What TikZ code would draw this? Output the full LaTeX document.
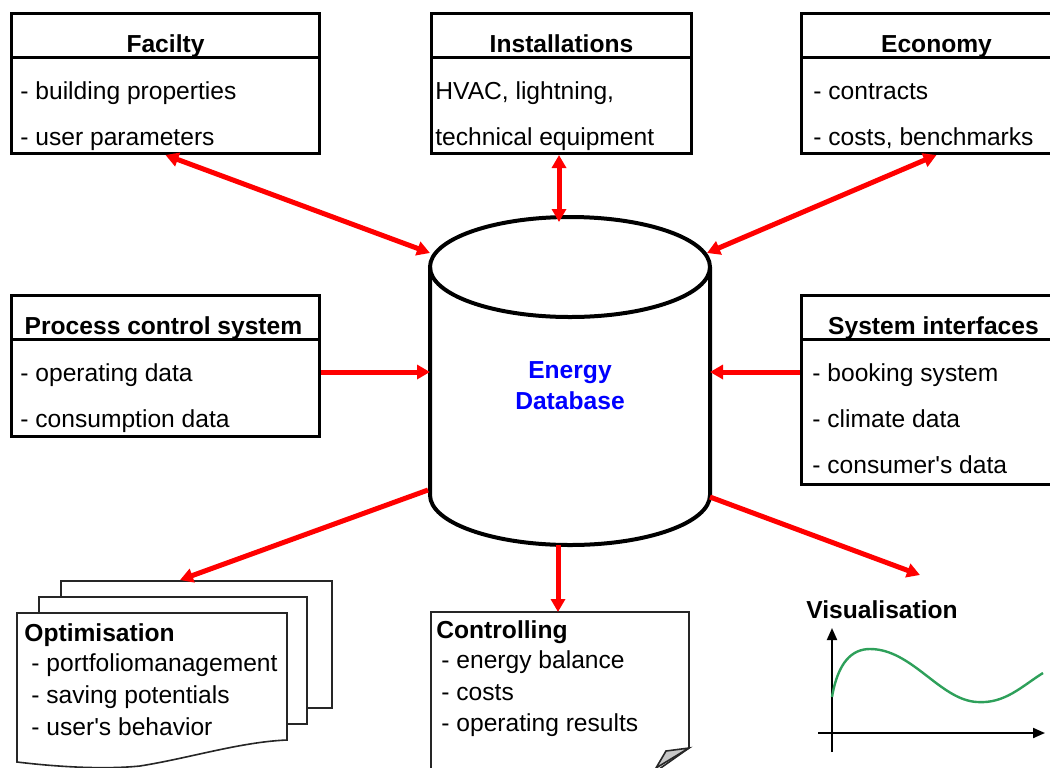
\documentclass[tikz,border=0pt]{standalone}
\usepackage{fontspec}
\setmainfont{Liberation Sans}
\usepackage{tikz}
\usetikzlibrary{
  arrows.meta
}
\colorlet{link}{red}
\colorlet{dbText}{blue}
\definecolor{curve}{RGB}{46,160,90}
\colorlet{flap}{black!22}
\colorlet{page}{black!85}
\newcommand\txtsize{\fontsize{12.3pt}{15pt}\selectfont}
\tikzset{
  every box/.style={draw, line width=1.5pt, anchor=north west, inner sep=0pt},
  box rule/.style={line width=1.5pt},
  box title/.style={anchor=base, inner sep=0pt, font=\txtsize\bfseries},
  box item/.style={anchor=base west, inner sep=0pt, font=\txtsize},
  page sheet/.style={draw=page, line width=0.8pt, fill=white},
  link both/.style={draw=link, line width=2.5pt,
    {Triangle[length=6.5pt,width=7pt]}-{Triangle[length=6.5pt,width=7pt]}},
  link to/.style={draw=link, line width=2.5pt, -{Triangle[length=6.5pt,width=7pt]}},
  axis/.style={line width=1pt, -{Triangle[length=6pt,width=5pt]}}
}

\begin{document}
\begin{tikzpicture}[x=0.5pt, y=-0.5pt]
\useasboundingbox (0,0) rectangle (1050,767);
\clip (0,0) rectangle (1050,767);

% boxes along the top
\node[every box, minimum width=154pt, minimum height=70pt] (facility) at (10,12) {};
\node[every box, minimum width=130pt, minimum height=70pt] (install) at (430,12) {};
\node[every box, minimum width=135pt, minimum height=70pt] (economy) at (800,12) {};
% boxes at the sides
\node[every box, minimum width=154pt, minimum height=70.5pt] (process) at (10,294) {};
\node[every box, minimum width=132pt, minimum height=94.5pt] (sysif) at (800,294) {};

\foreach \b in {facility,install,economy,process,sysif}
  \draw[box rule] ([yshift=-22.5pt]\b.north west) -- ([yshift=-22.5pt]\b.north east);

\node[box title] (facility-title) at ([yshift=-20pt]facility.north) {Facilty};
\node[box title] (install-title) at ([yshift=-20pt]install.north) {Installations};
\node[box title] (economy-title) at ([yshift=-20pt]economy.north) {Economy};
\node[box title] (process-title) at ([xshift=-1pt,yshift=-20pt]process.north) {Process control system};
\node[box title] (sysif-title) at ([yshift=-20pt]sysif.north) {System interfaces};

\foreach \t [count=\i] in {{- building properties},{- user parameters}}
  \node[box item] (facility-\i) at ([xshift=5pt,yshift={-43.5pt-23pt*(\i-1)}]facility.north west) {\t};
\foreach \t [count=\i] in {{HVAC, lightning,},{technical equipment}}
  \node[box item] (install-\i) at ([xshift=2.5pt,yshift={-43.5pt-23pt*(\i-1)}]install.north west) {\t};
\foreach \t [count=\i] in {{- contracts},{- costs, benchmarks}}
  \node[box item] (economy-\i) at ([xshift=6.5pt,yshift={-43.5pt-23pt*(\i-1)}]economy.north west) {\t};
\foreach \t [count=\i] in {{- operating data},{- consumption data}}
  \node[box item] (process-\i) at ([xshift=5pt,yshift={-43.5pt-23pt*(\i-1)}]process.north west) {\t};
\foreach \t [count=\i] in {{- booking system},{- climate data},{- consumer\textquotesingle s data}}
  \node[box item] (sysif-\i) at ([xshift=6pt,yshift={-43.5pt-23pt*(\i-1)}]sysif.north west) {\t};

% the database drum
\draw[line width=2pt, fill=white] (430,267) -- (430,495)
  arc[start angle=180, end angle=0, x radius=140, y radius=50] -- (710,267);
\draw[line width=2pt] (570,267) ellipse[x radius=140, y radius=50];
\node[align=center, inner sep=0pt, text=dbText, font=\fontsize{12.3pt}{15.5pt}\selectfont\bfseries]
  (db) at (570,386) {Energy\\Database};

\coordinate (db-fac) at (430,253);
\coordinate (db-inst) at (559,222);
\coordinate (db-eco) at (707,253);
\coordinate (db-proc) at (430,372);
\coordinate (db-sys) at (710,372);
\coordinate (db-opt) at (428,490);
\coordinate (db-ctrl) at (558,545);
\coordinate (db-vis) at (710,497);

% stacked report pages
\draw[page sheet] (61,581) rectangle (332,708);
\draw[page sheet] (39,597) rectangle (307,724);
\draw[page sheet] (17,613) -- (287,613) -- (287,740)
  .. controls (240,742) and (190,758) .. (140,766)
  .. controls (100,770) and (50,766) .. (17,762) -- cycle;
\coordinate (optim-in) at (180,580);
\node[box item, font=\txtsize\bfseries] (optim-title) at (24,641) {Optimisation};
\foreach \t [count=\i] in {{- portfoliomanagement},{- saving potentials},{- user\textquotesingle s behavior}}
  \node[box item] (optim-\i) at (31,{639+32*\i}) {\t};

% single page with turned corner
\draw[page sheet] (431,772) -- (431,612) -- (689,612) -- (689,748) -- (655,772);
\draw[page sheet, fill=flap] (689,748) -- (666,751) -- (656,768) -- cycle;
\coordinate (ctrl-in) at (558,612);
\node[box item, font=\txtsize\bfseries] (ctrl-title) at (436,638) {Controlling};
\foreach \t [count=\i] in {{- energy balance},{- costs},{- operating results}}
  \node[box item] (ctrl-\i) at (441,{637+31.5*\i}) {\t};

% small chart
\node[box item, font=\txtsize\bfseries] (vis-title) at (806,618) {Visualisation};
\coordinate (vis-in) at (920,575);
\coordinate (vis-o) at (832,733);
\draw[axis] (832,752) -- (832,628);
\draw[axis] (818,733) -- (1045,733);
\draw[curve, line width=1.2pt] (832,697)
  .. controls (838,662) and (852,649) .. (870,649)
  .. controls (912,649) and (940,700) .. (977,702)
  .. controls (1005,704) and (1022,686) .. (1043,673);

% links
\draw[link both] (facility.south) -- (db-fac);
\draw[link both] (install.south -| db-inst) -- (db-inst);
\draw[link both] (economy.south) -- (db-eco);
\draw[link to] (process.east |- db-proc) -- (db-proc);
\draw[link to] (sysif.west |- db-sys) -- (db-sys);
\draw[link to] (db-opt) -- (optim-in);
\draw[link to] (db-ctrl) -- (ctrl-in);
\draw[link to] (db-vis) -- (vis-in);
\end{tikzpicture}
\end{document}
